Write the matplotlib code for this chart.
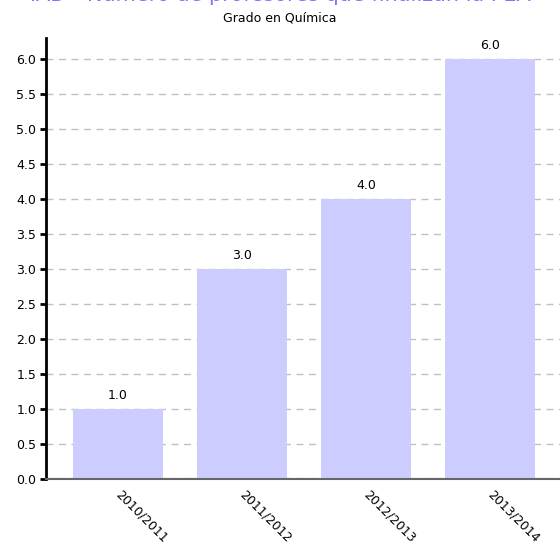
import numpy as np
import matplotlib.pyplot as plt

cursos = ['2010/2011', '2011/2012', '2012/2013', '2013/2014']
profesores = [1.0, 3.0, 4.0, 6.0]
yticks = np.arange(0, 6.5, 0.5)

fig = plt.figure(figsize=(5.6, 5.5), dpi=100)
ax = fig.add_axes([46 / 560, 1 - 479 / 550, 514 / 560, 441 / 550])

x = np.arange(len(cursos))
ax.bar(x, profesores, width=0.726, color='#ccccff', zorder=2)
for xi, v in zip(x, profesores):
    ax.text(xi, v + 0.1, f'{v:.1f}', ha='center', va='bottom', fontsize=9, zorder=3)

ax.set_xlim(-0.58, 3.565)
ax.set_ylim(0, 6.3)
ax.set_yticks(yticks)
ax.set_yticklabels([f'{t:.1f}' for t in yticks], fontsize=9)
ax.yaxis.grid(True, linestyle=(0, (5, 4)), color='#c0c0c0', linewidth=1, zorder=1)

ax.set_xticks(x)
ax.set_xticklabels(cursos, rotation=-45, ha='left', va='center',
                   rotation_mode='anchor', fontsize=9)
ax.tick_params(axis='x', length=0, pad=10)
ax.tick_params(axis='y', length=4, width=2, direction='out', pad=3)

for s in ['top', 'right', 'bottom']:
    ax.spines[s].set_visible(False)
ax.spines['left'].set_linewidth(2)

ax.axhline(0, color='#666666', linewidth=1.5, zorder=3, clip_on=False)
ax.axhline(0, color='#333333', linewidth=1.5, linestyle=(0, (4, 2)), zorder=1)

# titulo recortado en el borde superior, como en la imagen original
fig.text(0.5, 1 - 1 / 550, 'IAD - Número de profesores que finalizan la PEA',
         ha='center', va='baseline', fontsize=15, color='#7777ff')
fig.text(0.5, 1 - 18 / 550, 'Grado en Química', ha='center', va='center', fontsize=9)

fig.savefig('out.png', dpi=100)
